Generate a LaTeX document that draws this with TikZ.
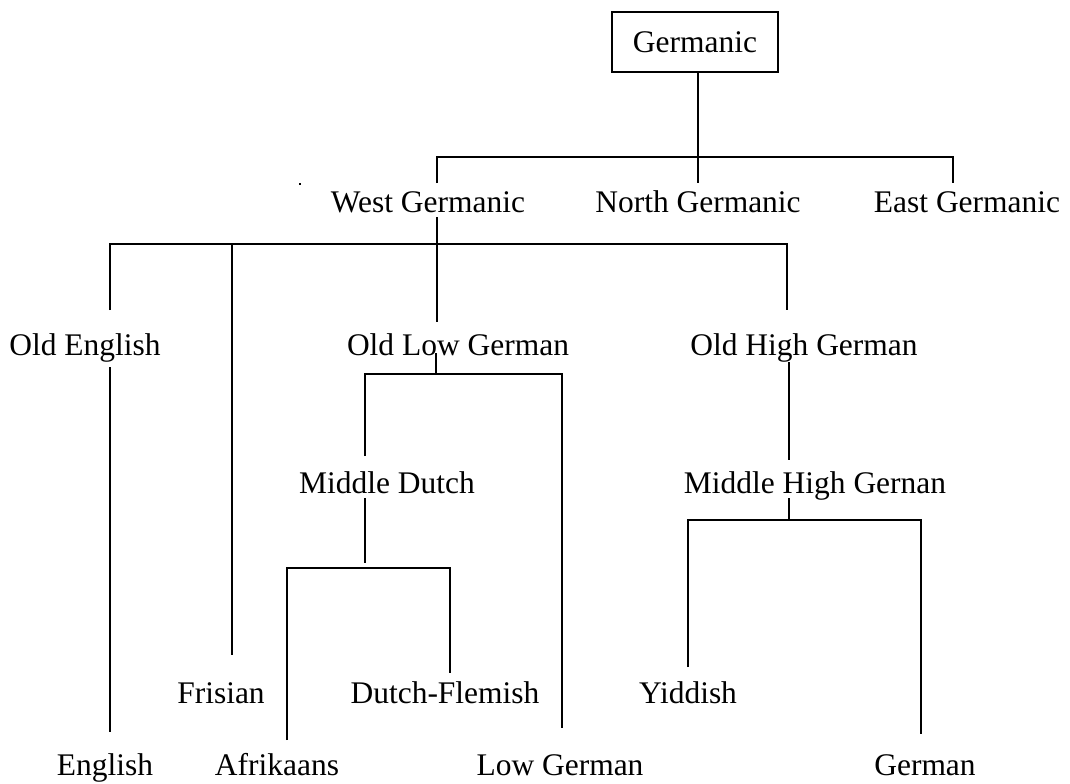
\documentclass[tikz,border=0pt]{standalone}
\usepackage{fontspec}
\setmainfont{Liberation Serif}
\begin{document}
\begin{tikzpicture}[x=0.75pt,y=-0.75pt,
  lang/.style={anchor=base,inner sep=0pt,font=\fontsize{23.6pt}{28pt}\selectfont},
  link/.style={line width=1.5pt}]
\useasboundingbox (0,0) rectangle (1070,783);

% root
\node[draw,line width=1.5pt,minimum width=124.5pt,minimum height=45pt,inner sep=0pt,
      font=\fontsize{23.6pt}{28pt}\selectfont] (germanic) at (695,42) {Germanic};

% first level
\node[lang] (wg) at (428,212) {West Germanic};
\node[lang] (ng) at (698,212) {North Germanic};
\node[lang] (eg) at (967,212) {East Germanic};

% second level
\node[lang] (oe)  at (85,355)  {Old English};
\node[lang] (olg) at (458,355) {Old Low German};
\node[lang] (ohg) at (804,355) {Old High German};

% third level
\node[lang] (md)  at (387,493) {Middle Dutch};
\node[lang] (mhg) at (815,493) {Middle High Gernan};

% fourth level
\node[lang] (fr) at (221,703) {Frisian};
\node[lang] (df) at (445,703) {Dutch-Flemish};
\node[lang] (yi) at (688,703) {Yiddish};

% modern languages
\node[lang] (en) at (105,775) {English};
\node[lang] (af) at (277,775) {Afrikaans};
\node[lang] (lg) at (560,775) {Low German};
\node[lang] (de) at (925,775) {German};

% stray mark beside West Germanic
\fill (299,183) rectangle (301,185);

% connector end points
\coordinate (g0) at (698,72);
\coordinate (ngT) at (698,183);
\coordinate (wgT) at (437,183);
\coordinate (egT) at (953,183);
\coordinate (wgB) at (437,217);
\coordinate (olgT) at (437,322);
\coordinate (oeT) at (110,310);
\coordinate (frT) at (232,244);
\coordinate (frB) at (232,655);
\coordinate (ohgT) at (787,310);
\coordinate (oeB) at (110,367);
\coordinate (enT) at (110,732);
\coordinate (olgB) at (436,353);
\coordinate (olgJ) at (436,374);
\coordinate (mdT) at (365,456);
\coordinate (lgT) at (562,728);
\coordinate (mdB) at (365,498);
\coordinate (mdJ) at (365,563);
\coordinate (afT) at (287,740);
\coordinate (dfT) at (450,673);
\coordinate (ohgB) at (789,362);
\coordinate (mhgT) at (789,460);
\coordinate (mhgB) at (789,498);
\coordinate (mhgJ) at (789,520);
\coordinate (yiT) at (688,667);
\coordinate (deT) at (921,734);

% Germanic branches
\draw[link] (g0) -- (ngT);
\draw[link] (wgT) |- (698,157) -| (egT);

% West Germanic branches
\draw[link] (wgB) -- (olgT);
\draw[link] (oeT) |- (ohgT |- 0,244) -- (ohgT);
\draw[link] (frT) -- (frB);

% Old English to English
\draw[link] (oeB) -- (enT);

% Old Low German branches
\draw[link] (olgB) -- (olgJ);
\draw[link] (mdT) |- (lgT |- olgJ) -- (lgT);

% Middle Dutch branches
\draw[link] (mdB) -- (mdJ);
\draw[link] (afT) |- (dfT |- 0,568) -- (dfT);

% High German line
\draw[link] (ohgB) -- (mhgT);
\draw[link] (mhgB) -- (mhgJ);
\draw[link] (yiT) |- (deT |- mhgJ) -- (deT);
\end{tikzpicture}
\end{document}
